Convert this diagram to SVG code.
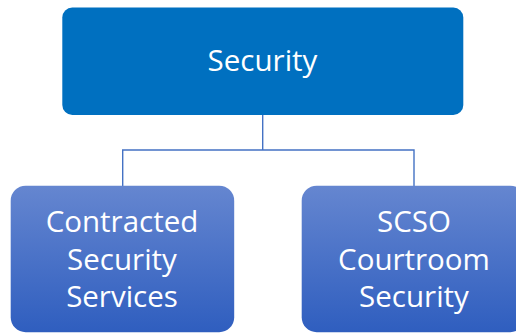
<svg xmlns="http://www.w3.org/2000/svg" width="516" height="333" viewBox="0 0 516 333">
  <defs>
    <linearGradient id="childFill" x1="0" y1="0" x2="0" y2="1">
      <stop offset="0" stop-color="#6586D0"/>
      <stop offset="1" stop-color="#2F5EBF"/>
    </linearGradient>
    <style>
      .label { font-family: "Open Sans", "Liberation Sans", sans-serif; font-size: 29.5px; fill: #FFFFFF; text-anchor: middle; }
      .link { fill: none; stroke: #4472C4; stroke-width: 1.4; }
    </style>
  </defs>
  <rect width="516" height="333" fill="#FFFFFF"/>

  <g id="connectors">
    <path class="link" d="M262.7 115 V150 M122.7 186 V150 H414 V186"/>
  </g>

  <g id="node-security">
    <rect x="62.3" y="7.5" width="401" height="107.5" rx="10" fill="#0070C0"/>
    <text class="label" x="262.5" y="70.5">Security</text>
  </g>

  <g id="node-contracted">
    <rect x="10.7" y="185.7" width="223.5" height="146.5" rx="15" fill="url(#childFill)"/>
    <text class="label" x="122" y="231.7">Contracted</text>
    <text class="label" x="122" y="269.5">Security</text>
    <text class="label" x="122" y="306.7">Services</text>
  </g>

  <g id="node-scso">
    <rect x="301.7" y="185.7" width="223.5" height="146.5" rx="15" fill="url(#childFill)"/>
    <text class="label" x="414" y="231.7">SCSO</text>
    <text class="label" x="414" y="269.5">Courtroom</text>
    <text class="label" x="414" y="306.7">Security</text>
  </g>
</svg>
